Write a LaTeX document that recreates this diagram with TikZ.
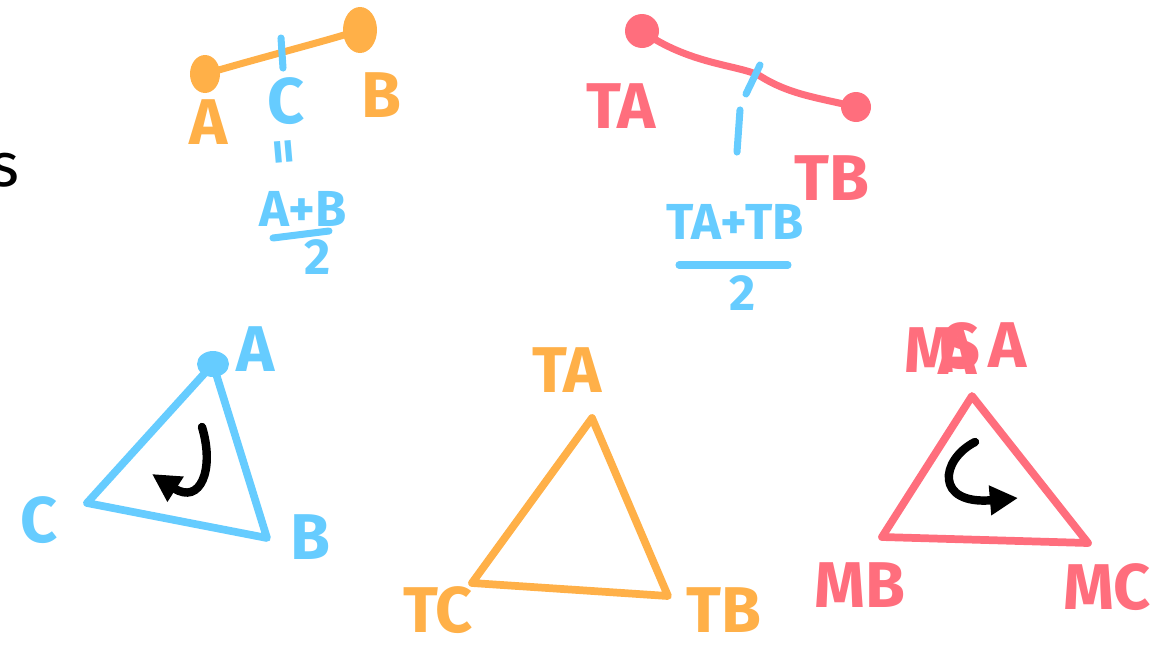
\documentclass[tikz,border=0pt]{standalone}
\usepackage{fontspec}
\setmainfont{Fira Sans}
\usetikzlibrary{arrows.meta}
\definecolor{penorange}{RGB}{255,176,72}
\definecolor{penblue}{RGB}{102,204,255}
\definecolor{penred}{RGB}{255,110,125}

\begin{document}
\begin{tikzpicture}[x=0.025cm,y=-0.025cm,
    pen/.style={line width=5pt,line cap=round,line join=round},
    hand/.style={inner sep=0pt,font=\fontsize{46}{46}\selectfont\bfseries},
    fraclabel/.style={inner sep=0pt,font=\fontsize{36}{36}\selectfont\bfseries},
    turn/.style={line width=6pt,line cap=round,-{Triangle[length=20pt,width=20pt]}}]
    \useasboundingbox (0,0) rectangle (1164,645);

    % 1. Chu s den o mep trai
    \node[inner sep=0pt,font=\fontsize{44}{44}\selectfont] (sletter) at (5,170) {s};

    % 2. Doan thang A--B mau cam, trung diem C
    \coordinate (pA) at (205,74);
    \coordinate (pB) at (360,30);
    \draw[pen,penorange] (pA) .. controls (270,55) and (330,40) .. (pB);
    \fill[penorange] (pA) ellipse (15 and 19);
    \fill[penorange] (pB) ellipse (17 and 23);
    \coordinate (tickC1) at (281,38);
    \coordinate (tickC2) at (283,68);
    \draw[pen,penblue] (tickC1) -- (tickC2);
    \node[hand,penorange] (lblA) at (209,122) {A};
    \node[hand,penblue] (lblC) at (286,101) {C};
    \node[hand,penorange] (lblB) at (381,95) {B};
    \node[fraclabel,penblue,rotate=95] (eqC) at (288,152) {=};
    \node[fraclabel,penblue] (numAB) at (303,209) {A+B};
    \coordinate (barAB1) at (273,238);
    \coordinate (barAB2) at (329,231);
    \draw[pen,penblue] (barAB1) -- (barAB2);
    \node[fraclabel,penblue] (denAB) at (318,257) {2};

    % 3. Doan TA--TB mau do
    \coordinate (pTA) at (642,31);
    \coordinate (pTB) at (856,107);
    \draw[pen,penred] (pTA) .. controls (690,65) and (740,65) .. (760,76)
        .. controls (790,95) and (820,98) .. (pTB);
    \fill[penred] (pTA) circle (17);
    \fill[penred] (pTB) circle (15);
    \coordinate (tickT1) at (760,65);
    \coordinate (tickT2) at (746,94);
    \draw[pen,penblue] (tickT1) -- (tickT2);
    \node[hand,penred] (lblTA) at (621,106) {TA};
    \node[hand,penred] (lblTB) at (832,178) {TB};
    \coordinate (eqT1) at (740,110);
    \coordinate (eqT2) at (737,152);
    \draw[pen,penblue] (eqT1) -- (eqT2);
    \node[fraclabel,penblue] (numT) at (735,222) {TA+TB};
    \coordinate (barT1) at (679,265);
    \coordinate (barT2) at (788,265);
    \draw[pen,penblue] (barT1) -- (barT2);
    \node[fraclabel,penblue] (denT) at (743,293) {2};

    % 4. Tam giac xanh A, B, C
    \coordinate (triA) at (213,364);
    \coordinate (triB) at (267,538);
    \coordinate (triC) at (87,503);
    \draw[pen,penblue,line width=5.5pt] (triA) -- (triB) -- (triC) -- cycle;
    \fill[penblue] (triA) ellipse (16 and 13);
    \node[hand,penblue] (lblA2) at (256,349) {A};
    \node[hand,penblue] (lblB2) at (310,537) {B};
    \node[hand,penblue] (lblC2) at (39,520) {C};
    \coordinate (rotL1) at (202,427);
    \coordinate (rotL2) at (152,474);
    \draw[turn] (rotL1) .. controls (215,470) and (200,505) .. (rotL2);

    % 5. Tam giac cam TA, TB, TC
    \coordinate (triTA) at (592,418);
    \coordinate (triTB) at (668,596);
    \coordinate (triTC) at (472,583);
    \draw[pen,penorange,line width=5.5pt] (triTA) -- (triTB) -- (triTC) -- cycle;
    \node[hand,penorange] (lblTA2) at (567,370) {TA};
    \node[hand,penorange] (lblTB2) at (724,610) {TB};
    \node[hand,penorange] (lblTC2) at (438,610) {TC};

    % 6. Tam giac do MA, MB, MC
    \coordinate (triMA) at (972,396);
    \coordinate (triMB) at (882,537);
    \coordinate (triMC) at (1088,543);
    \draw[pen,penred,line width=5.5pt] (triMA) -- (triMC) -- (triMB) -- cycle;
    \node[hand,penred] (lblM) at (930,350) {M};
    \node[hand,penred] (lblMA) at (958,352) {A};
    \node[hand,penred] (lblMS) at (962,346) {S};
    \node[hand,penred] (lblA3) at (1008,345) {A};
    \node[hand,penred] (lblMB) at (860,585) {MB};
    \node[hand,penred] (lblMC) at (1107,587) {MC};
    \coordinate (rotR1) at (975,442);
    \coordinate (rotR2) at (1018,498);
    \draw[turn] (rotR1) .. controls (940,460) and (935,505) .. (rotR2);

\end{tikzpicture}
\end{document}
